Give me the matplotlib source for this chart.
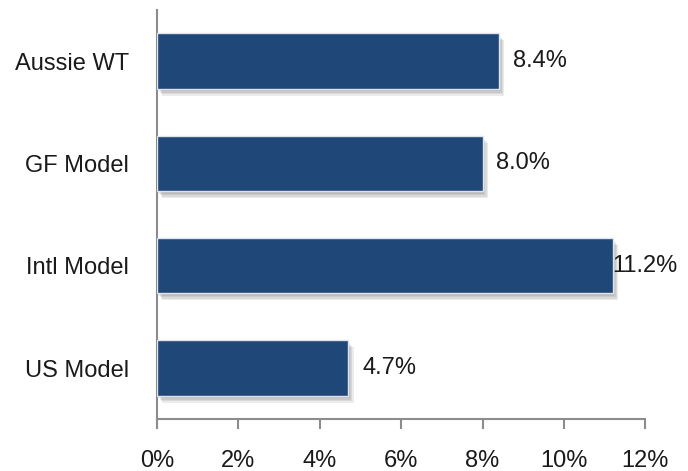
import matplotlib.pyplot as plt
import matplotlib.patheffects as pe
from matplotlib.ticker import FuncFormatter
from matplotlib import font_manager

names = ['Aussie WT', 'GF Model', 'Intl Model', 'US Model']
values = [8.4, 8.0, 11.2, 4.7]
xticks = [0, 2, 4, 6, 8, 10, 12]

installed = {f.name for f in font_manager.fontManager.ttflist}
family = 'Liberation Sans Narrow' if 'Liberation Sans Narrow' in installed else 'Liberation Sans'
plt.rcParams['font.family'] = [family, 'DejaVu Sans']

bar_color = '#1f4879'
text_color = '#1a1a1a'
axis_color = '#8c8c8c'

fig = plt.figure(figsize=(6.88, 4.71), dpi=100)
ax = fig.add_axes([0.228, 0.110, 0.710, 0.869])

pos = list(range(len(names)))[::-1]
bars = ax.barh(pos, values, height=0.54, color=bar_color,
               edgecolor='#dfe4ec', linewidth=1.0, zorder=3)

# soft drop shadow built from a few faint offset copies
shadow = [pe.SimplePatchShadow(offset=(dx, -dy), shadow_rgbFace='#404040', alpha=0.10)
          for dx, dy in [(1, 2), (2, 3), (3, 4), (4, 5)]]
for b in bars:
    b.set_path_effects(shadow + [pe.Normal()])

ax.set_xlim(0, 12)
ax.set_ylim(-0.5, len(names) - 0.5)
ax.set_yticks(pos)
ax.set_yticklabels(names)
ax.set_xticks(xticks)
ax.xaxis.set_major_formatter(FuncFormatter(lambda v, _: '%d%%' % v))

# value labels sit just past the bar end, pulled in if they would run off the chart
for p, v in zip(pos, values):
    ax.annotate('%.1f%%' % v, xy=(min(v, 10.85), p), xytext=(10, 0),
                textcoords='offset points', ha='left', va='center',
                fontsize=17, color=text_color)

for s in ['top', 'right']:
    ax.spines[s].set_visible(False)
for s in ['left', 'bottom']:
    ax.spines[s].set_color(axis_color)
    ax.spines[s].set_linewidth(1.5)

ax.tick_params(axis='y', length=0, pad=20, labelsize=17, labelcolor=text_color)
ax.tick_params(axis='x', direction='out', length=7, width=1.5, color=axis_color,
               pad=15, labelsize=17, labelcolor=text_color)

fig.savefig('out.png', dpi=100)
